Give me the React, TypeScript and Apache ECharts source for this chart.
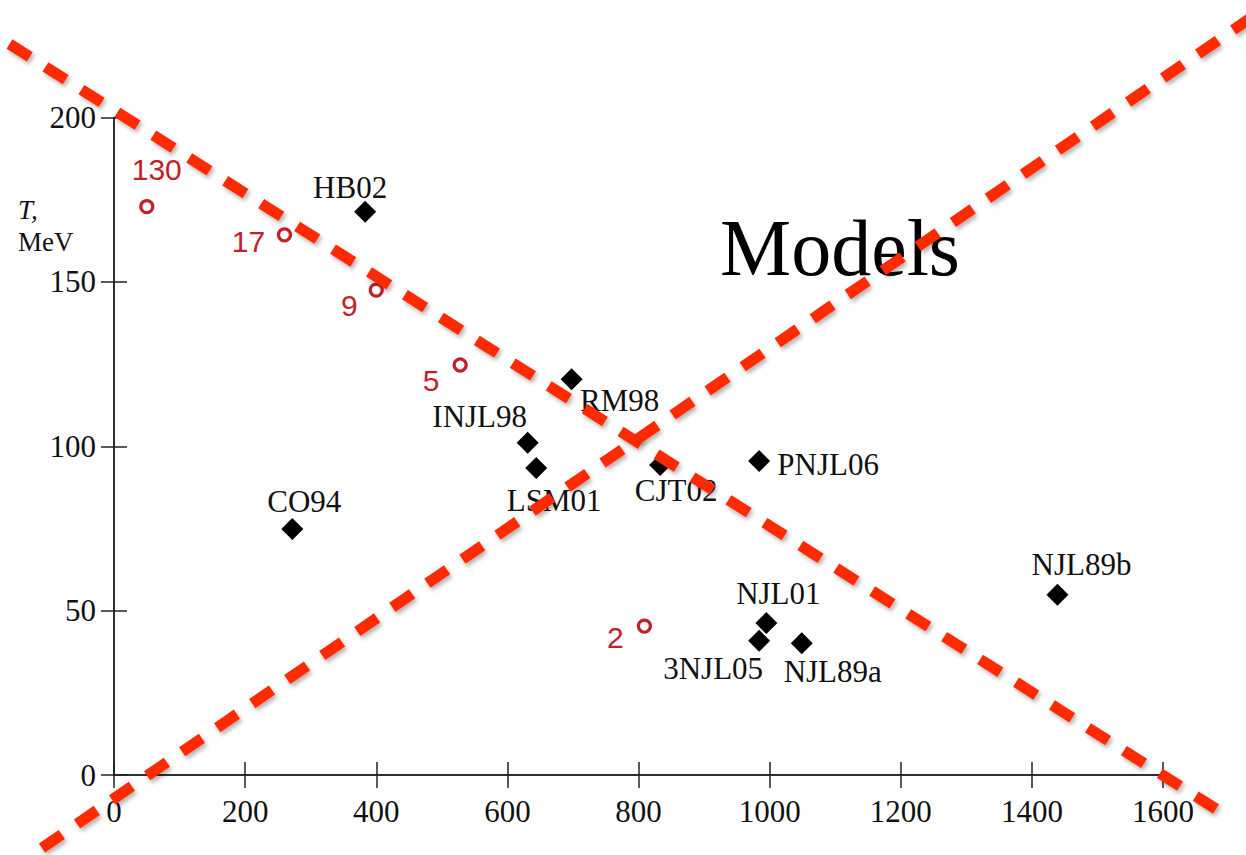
import React, { useEffect, useRef } from "react";
import * as echarts from "echarts";

// Models (black diamonds)
const modelNames = ["HB02", "RM98", "INJL98", "LSM01", "CJT02", "PNJL06", "CO94", "NJL89b", "NJL01", "3NJL05", "NJL89a"];
const modelMu = [383, 698, 631, 644, 833, 984, 272, 1439, 995, 984, 1049];
const modelT = [171.3, 120.4, 101.1, 93.4, 94.3, 95.5, 74.8, 54.8, 46.2, 40.8, 40.1];

// Freeze-out points (red open circles), labelled by energy
const freezeNames = ["130", "17", "9", "5", "2"];
const freezeMu = [50, 260, 400, 528, 809];
const freezeT = [172.9, 164.3, 147.5, 124.7, 45.3];

const xTicks = { min: 0, max: 1600, interval: 200 };
const yTicks = { min: 0, max: 200, interval: 50 };

// overlay cross annotation (page pixels)
const crossSegments = [
  [9.5, 44, 1216, 809],
  [42, 848, 1252, 17],
];

// label placement (pixel offsets from marker centre)
const labelOffsets: Record<string, [number, number]> = {
  HB02: [-15, -24],
  RM98: [48, 21],
  INJL98: [-48, -26],
  LSM01: [18, 33],
  CJT02: [16, 26],
  PNJL06: [69, 3],
  CO94: [12, -28],
  NJL89b: [24, -30],
  NJL01: [12, -30],
  "3NJL05": [-46, 28],
  NJL89a: [31, 28],
  "130": [10, -37],
  "17": [-36, 7],
  "9": [-27, 15],
  "5": [-29, 15],
  "2": [-29, 11],
};

const SERIF = "'Liberation Serif', 'Times New Roman', serif";
const SANS = "'Liberation Sans', Arial, sans-serif";
const RED = "#c41e2a";
const DASH = "#ff2a00";

export default function App() {
  const ref = useRef<HTMLDivElement>(null);
  useEffect(() => {
    document.body.style.margin = "0";
    if (!ref.current) return;
    const chart = echarts.init(ref.current, null, { renderer: "svg" });
    const axisLine = { show: true, lineStyle: { color: "#222", width: 1.5 } };
    const tick = { show: true, inside: true, length: 13, lineStyle: { color: "#222", width: 1.5 } };
    const modelData = modelNames.map((n, i) => ({
      name: n,
      value: [modelMu[i], modelT[i]],
      label: { offset: labelOffsets[n] },
    }));
    const freezeData = freezeNames.map((n, i) => ({
      name: n,
      value: [freezeMu[i], freezeT[i]],
      label: { offset: labelOffsets[n] },
    }));
    const dashLen = 24;
    const crossGraphics = crossSegments.map((s, k) => {
      const len = Math.hypot(s[2] - s[0], s[3] - s[1]);
      // first segment ends on a full dash; second runs off the page
      const period = k === 0 ? (len - dashLen) / Math.round((len - dashLen) / 42) : 42.5;
      return {
        type: "line",
        z: 100,
        silent: true,
        shape: { x1: s[0], y1: s[1], x2: s[2], y2: s[3] },
        style: {
          stroke: DASH,
          lineWidth: 11,
          lineDash: [dashLen, period - dashLen],
          lineCap: "butt",
          shadowColor: "rgba(0,0,0,0.3)",
          shadowBlur: 4,
          shadowOffsetX: 2,
          shadowOffsetY: 3,
        },
      };
    });
    chart.setOption({
      animation: false,
      backgroundColor: "#fff",
      grid: { left: 114, right: 83, top: 117.5, bottom: 80, containLabel: false },
      xAxis: [
        {
          type: "value",
          position: "bottom",
          ...xTicks,
          axisLine,
          axisTick: tick,
          splitLine: { show: false },
          axisLabel: {
            fontFamily: SERIF,
            fontSize: 31,
            color: "#111",
            margin: 21,
            formatter: (v: number) => String(v),
          },
        },
        {
          type: "value",
          position: "top",
          ...xTicks,
          axisLine,
          axisTick: tick,
          splitLine: { show: false },
          axisLabel: { show: false },
        },
      ],
      yAxis: [
        {
          type: "value",
          position: "left",
          ...yTicks,
          axisLine,
          axisTick: tick,
          splitLine: { show: false },
          axisLabel: { fontFamily: SERIF, fontSize: 31, color: "#111", margin: 18 },
        },
        {
          type: "value",
          position: "right",
          ...yTicks,
          axisLine,
          axisTick: tick,
          splitLine: { show: false },
          axisLabel: { show: false },
        },
      ],
      graphic: [
        {
          type: "text",
          left: 18,
          top: 196,
          z: 1,
          style: { text: "T,", font: `italic 27px ${SERIF}`, fill: "#111" },
        },
        {
          type: "text",
          left: 18,
          top: 228,
          z: 1,
          style: { text: "MeV", font: `27px ${SERIF}`, fill: "#111" },
        },
        {
          type: "text",
          x: 840,
          y: 248,
          z: 1,
          style: {
            text: "Models",
            font: `80px ${SERIF}`,
            fill: "#000",
            textAlign: "center",
            textVerticalAlign: "middle",
          },
        },
        ...crossGraphics,
      ],
      series: [
        {
          type: "scatter",
          name: "models",
          symbol: "diamond",
          symbolSize: 22,
          itemStyle: { color: "#000", opacity: 1 },
          z: 3,
          label: {
            show: true,
            position: "inside",
            formatter: "{b}",
            fontFamily: SERIF,
            fontSize: 31,
            color: "#111",
          },
          data: modelData,
        },
        {
          type: "scatter",
          name: "freeze",
          symbol: "circle",
          symbolSize: 12,
          itemStyle: { color: "#fff", borderColor: RED, borderWidth: 3.2, opacity: 1 },
          z: 3,
          label: {
            show: true,
            position: "inside",
            formatter: "{b}",
            fontFamily: SANS,
            fontSize: 30,
            color: RED,
          },
          data: freezeData,
        },
      ],
    });
    return () => chart.dispose();
  }, []);
  return (
    <div
      ref={ref}
      style={{ position: "fixed", left: 0, top: 0, width: 1246, height: 855 }}
    />
  );
}
